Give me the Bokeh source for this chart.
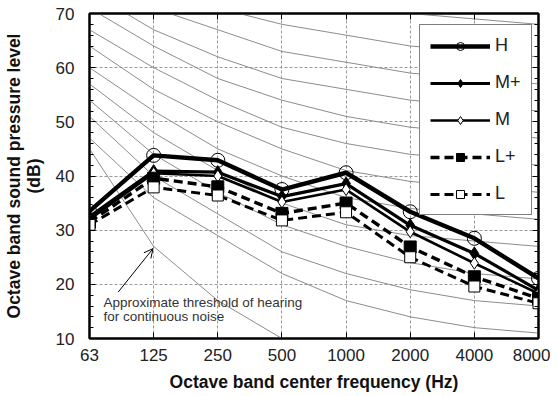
from bokeh.plotting import figure
from bokeh.models import (FixedTicker, LinearAxis, Legend, LegendItem, Label, Arrow,
                          OpenHead, Range1d)
from bokeh.embed import file_html
from bokeh.resources import INLINE

# ---- data ----
freqs = ["63", "125", "250", "500", "1000", "2000", "4000", "8000"]
H = [33.5, 43.8, 42.9, 37.5, 40.6, 33.4, 28.5, 21.1]
Mp = [32.5, 40.9, 40.7, 36.2, 38.6, 30.9, 25.7, 18.9]
M = [32.0, 40.5, 40.0, 35.2, 37.5, 29.7, 23.9, 18.3]
Lp = [31.5, 39.6, 38.0, 33.1, 35.0, 26.9, 21.4, 17.4]
L = [31.0, 37.9, 36.4, 31.8, 33.3, 25.0, 19.6, 16.5]

nc_names = ["NC-15", "NC-20", "NC-25", "NC-30", "NC-35", "NC-40",
            "NC-45", "NC-50", "NC-55", "NC-60", "NC-65", "NC-70"]
nc15 = [47, 36, 29, 22, 17, 14, 12, 11]
nc20 = [51, 40, 33, 26, 22, 19, 17, 16]
nc25 = [54, 44, 37, 31, 27, 24, 22, 21]
nc30 = [57, 48, 41, 35, 31, 29, 28, 27]
nc35 = [60, 52, 45, 40, 36, 34, 33, 32]
nc40 = [64, 56, 50, 45, 41, 39, 38, 37]
nc45 = [67, 60, 54, 49, 46, 44, 43, 42]
nc50 = [71, 64, 58, 54, 51, 49, 48, 47]
nc55 = [74, 67, 62, 58, 56, 54, 53, 52]
nc60 = [77, 71, 67, 63, 61, 59, 58, 57]
nc65 = [80, 75, 71, 68, 66, 64, 63, 62]
nc70 = [83, 79, 75, 72, 71, 70, 69, 68]
nc_labelled = ["NC-20", "NC-30", "NC-40", "NC-50"]

threshold_freqs = ["63", "125", "250", "500"]
threshold = [45, 27, 17, 10]

y_ticks = [10, 20, 30, 40, 50, 60, 70]
y_minor = list(range(10, 71, 2))

xi = list(range(len(freqs)))

FONT = "Liberation Sans"

p = figure(width=550, height=396, output_backend="svg", toolbar_location=None,
           x_range=Range1d(0, len(freqs) - 1), y_range=Range1d(10, 70),
           min_border_left=80, min_border_right=12, min_border_top=13, min_border_bottom=58)
p.outline_line_color = "black"
p.outline_line_width = 2

# NC curves
nc_all = [nc15, nc20, nc25, nc30, nc35, nc40, nc45, nc50, nc55, nc60, nc65, nc70]
for vals in nc_all:
    p.line(xi, vals, line_color="#8c8c8c", line_width=1)
for name, vals in zip(nc_names, nc_all):
    if name in nc_labelled:
        p.add_layout(Label(x=xi[-1], y=vals[-1], text=name, x_offset=13,
                           text_baseline="middle",
                           text_font=FONT, text_font_size="10px",
                           text_color="#777777"))

# threshold of hearing
t_x = [freqs.index(f) for f in threshold_freqs]
p.line(t_x, threshold, line_color="#8c8c8c", line_width=1)

p.add_layout(Arrow(end=OpenHead(size=9, line_width=1, line_color="black"),
                   x_start=t_x[1] - 0.554, y_start=threshold[1] - 8.45,
                   x_end=t_x[1] - 0.01, y_end=threshold[1] - 0.4,
                   line_width=1, line_color="black"))
p.add_layout(Label(x=0, y=threshold[3] + 6.7, x_offset=14,
                   text="Approximate threshold of hearing",
                   text_font=FONT, text_font_size="13.5px",
                   text_color="#333333", text_baseline="middle"))
p.add_layout(Label(x=0, y=threshold[3] + 4.1, x_offset=14,
                   text="for continuous noise",
                   text_font=FONT, text_font_size="13.5px",
                   text_color="#333333", text_baseline="middle"))

# series
dash = "9 5"
specs = [
    ("H", H, 4.4, None, "circle", 14, None, 9),
    ("M+", Mp, 3.2, None, "diamond", 13, "black", 9),
    ("M", M, 2.6, None, "diamond", 12, "white", 9),
    ("L+", Lp, 3.4, dash, "square", 12, "black", 10),
    ("L", L, 3.0, dash, "square", 11, "white", 9),
]
items = []
for label, vals, lw, ld, mk, ms, fill, lms in specs:
    kw = {} if ld is None else {"line_dash": ld}
    r_line = p.line(xi, vals, line_color="black", line_width=lw, **kw)
    p.scatter(xi, vals, marker=mk, size=ms, line_color="black", line_width=1,
              fill_color=fill)
    # smaller marker used only for the legend swatch
    r_leg = p.scatter(xi, vals, marker=mk, size=lms, line_color="black", line_width=1,
                      fill_color=fill, visible=False)
    items.append(LegendItem(label=label, renderers=[r_line, r_leg]))

legend = Legend(items=items, location=(330, 123), orientation="vertical")
legend.border_line_color = "black"
legend.border_line_width = 1.5
legend.background_fill_color = "white"
legend.background_fill_alpha = 1
legend.padding = 10
legend.margin = 0
legend.spacing = 16
legend.glyph_width = 60
legend.glyph_height = 20
legend.label_height = 20
legend.label_width = 26
legend.label_standoff = 5
legend.label_text_font = FONT
legend.label_text_font_size = "18px"
legend.label_text_color = "#222222"
legend.label_text_baseline = "middle"
p.add_layout(legend, "center")

# axes
for ax in (p.xaxis[0], p.yaxis[0]):
    ax.axis_line_width = 2
    ax.major_tick_in = 6
    ax.major_tick_out = 0
    ax.minor_tick_in = 4
    ax.minor_tick_out = 0
    ax.major_label_text_font = FONT
    ax.major_label_text_font_size = "17px"
    ax.major_label_text_color = "#222222"
    ax.axis_label_text_font = FONT
    ax.axis_label_text_font_style = "bold"
    ax.axis_label_text_font_size = "17.5px"
    ax.axis_label_text_color = "#111111"
    ax.axis_label_text_line_height = 1.0

p.xaxis.ticker = FixedTicker(ticks=xi)
p.xaxis.major_label_overrides = {i: f for i, f in zip(xi, freqs)}
p.xaxis.minor_tick_line_color = None
p.xaxis.major_label_standoff = 10
p.xaxis.axis_label = "Octave band center frequency (Hz)"
p.xaxis.axis_label_standoff = 8

p.yaxis.ticker = FixedTicker(ticks=y_ticks, minor_ticks=y_minor)
p.yaxis.major_label_standoff = 15
p.yaxis.axis_label = "Octave band sound pressure level\n(dB)"
p.yaxis.axis_label_standoff = 9

# mirrored axes (ticks only, no labels)
rax = LinearAxis(ticker=FixedTicker(ticks=y_ticks, minor_ticks=y_minor),
                 major_label_overrides={t: "" for t in y_ticks}, axis_line_width=2,
                 major_tick_in=6, major_tick_out=0, minor_tick_in=4, minor_tick_out=0,
                 major_label_standoff=0)
p.add_layout(rax, "right")
tax = LinearAxis(ticker=FixedTicker(ticks=xi),
                 major_label_overrides={i: "" for i in xi},
                 axis_line_width=2, major_tick_in=6, major_tick_out=0,
                 minor_tick_line_color=None, major_label_standoff=0)
p.add_layout(tax, "above")

p.xgrid.ticker = FixedTicker(ticks=xi)
p.ygrid.ticker = FixedTicker(ticks=y_ticks)
for g in (p.xgrid[0], p.ygrid[0]):
    g.grid_line_color = "#999999"
    g.grid_line_dash = "3 2"
    g.grid_line_width = 1

open("out.html", "w").write(file_html(p, INLINE))
